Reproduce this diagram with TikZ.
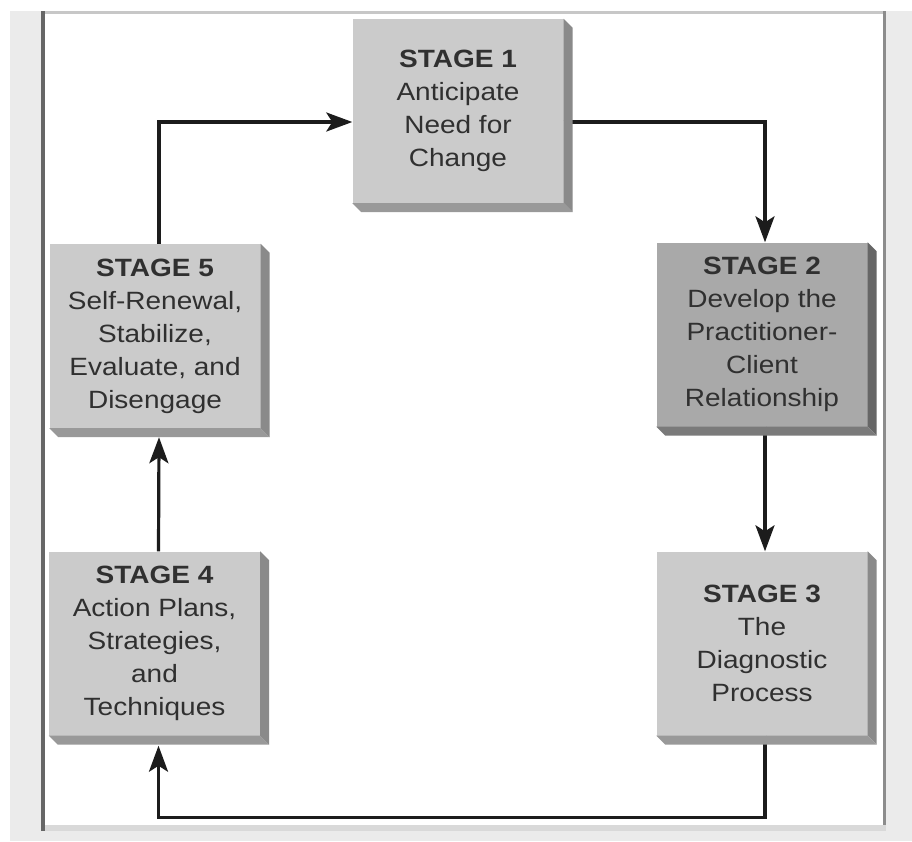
\documentclass[tikz,border=0pt]{standalone}
\usepackage{fontspec}
\setmainfont{Liberation Sans}[FakeStretch=1.12]
\usepackage{tikz}
\usetikzlibrary{arrows.meta}
\definecolor{paper}{HTML}{EBEBEB}
\definecolor{boxface}{HTML}{CBCBCB}
\definecolor{boxdark}{HTML}{A9A9A9}
\definecolor{linegray}{HTML}{1C1C1C}
\definecolor{textgray}{HTML}{303030}
\colorlet{sidelight}{black!46}
\colorlet{botlight}{black!40}
\colorlet{sidedark}{black!60}
\colorlet{botdark}{black!52}

\begin{document}
\begin{tikzpicture}[
    x=1pt,y=-1pt,
    >={Stealth[length=26pt,width=19pt,inset=6pt]},
    stage/.style = {rectangle,fill=boxface,text=textgray,align=center,
      minimum width=211pt,minimum height=184pt,inner sep=0pt,
      font=\fontsize{25}{33}\selectfont},
    hot/.style = {fill=boxdark},
    flow/.style = {linegray,->,line width=3.2pt}
    ]
    \useasboundingbox (0,0) rectangle (912,841);
    % Frame
    \fill[paper] (10,11) rectangle (912,841);
    \fill[white] (45,14) rectangle (883,825);
    \fill[black!22] (45,11) rectangle (883,14);
    \fill[black!15] (41,825) rectangle (886,831);
    \fill[black!60] (41,11) rectangle (45,831);
    \fill[black!45] (883,11) rectangle (886,825);
    % Stages
    \node[stage] (s1) at (458,111) {\textbf{STAGE 1}\\Anticipate\\Need for\\Change};
    \node[stage,hot] (s2) at (762,334.5) {\textbf{STAGE 2}\\Develop the\\Practitioner-\\Client\\Relationship};
    \node[stage] (s3) at (762,643.5) {\textbf{STAGE 3}\\The\\Diagnostic\\Process};
    \node[stage] (s4) at (154.5,643.5) {\textbf{STAGE 4}\\Action Plans,\\Strategies,\\and\\Techniques};
    \node[stage] (s5) at (155,336) {\textbf{STAGE 5}\\Self-Renewal,\\Stabilize,\\Evaluate, and\\Disengage};
    % Arrows
    \draw[flow] ([xshift=4pt]s5.north) |- ([yshift=-11pt]s1.west);
    \draw[flow] ([yshift=-11pt]s1.east) -| ([xshift=3pt]s2.north);
    \draw[flow] ([xshift=3pt]s2.south) -- ([xshift=3pt]s3.north);
    \draw[flow] ([xshift=3pt]s3.south) -- ++(0,82) -| ([xshift=4pt,yshift=-10pt]s4.south);
    \draw[flow] ([xshift=4pt]s4.north) -- ([xshift=4pt,yshift=-9pt]s5.south);
    % Shadows
    \foreach \n/\side/\bot in {s1/sidelight/botlight,s2/sidedark/botdark,
      s3/sidelight/botlight,s4/sidelight/botlight,s5/sidelight/botlight} {
      \fill[\side] (\n.north east) -- ([xshift=9pt,yshift=-9pt]\n.north east)
        -- ([xshift=9pt,yshift=-9pt]\n.south east) -- (\n.south east) -- cycle;
      \fill[\bot] (\n.south west) -- ([xshift=9pt,yshift=-9pt]\n.south west)
        -- ([xshift=9pt,yshift=-9pt]\n.south east) -- (\n.south east) -- cycle;
    }
  \end{tikzpicture}
\end{document}
